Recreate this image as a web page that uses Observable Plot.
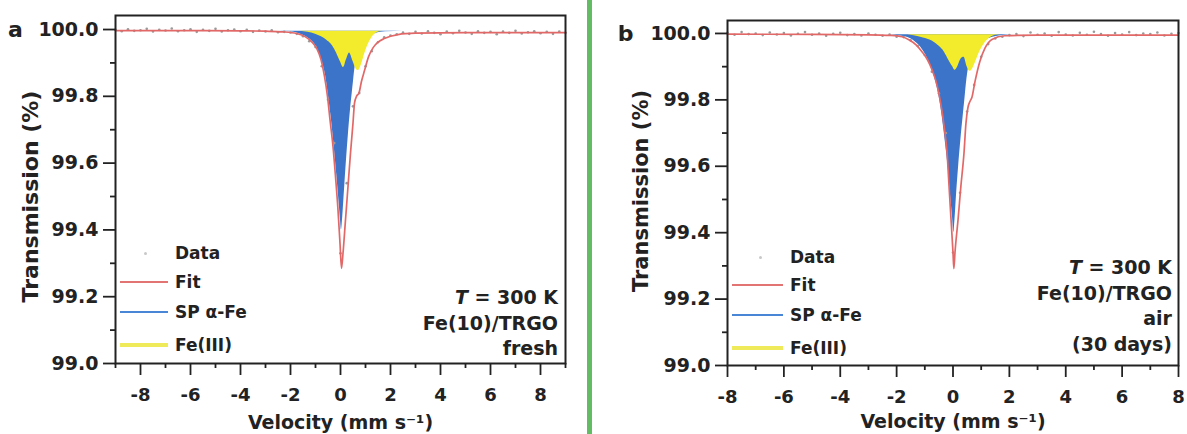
<!DOCTYPE html>
<html><head><meta charset="utf-8">
<script src="https://cdn.jsdelivr.net/npm/d3@7"></script>
<script src="https://cdn.jsdelivr.net/npm/@observablehq/plot@0.6"></script>
<style>
body{margin:0;background:#fff;}
#wrap{position:relative;width:1187px;height:434px;overflow:hidden;font-family:"DejaVu Sans",sans-serif;font-weight:bold;color:#222;background:#fff;}
.pan{position:absolute;top:0;}
.ann{position:absolute;text-align:right;font-size:19px;line-height:25.5px;white-space:nowrap;}
.legt{position:absolute;font-size:17px;line-height:20px;white-space:nowrap;}
.legl{position:absolute;}
#green{position:absolute;left:587px;top:0;width:5px;height:434px;background:#63bb63;}
</style></head>
<body><div id="wrap"><div id="green"></div></div>
<script>
// ---------- data ----------
const seriesNames = ["Data", "Fit", "SP α-Fe", "Fe(III)"];
const xLabel = "Velocity (mm s⁻¹)";
const yLabel = "Transmission (%)";
const yMajor = [99.0, 99.2, 99.4, 99.6, 99.8, 100.0];
const yMinor = [99.1, 99.3, 99.5, 99.7, 99.9];
const xMajor = [-8, -6, -4, -2, 0, 2, 4, 6, 8];
const xMinorA = [-9, -7, -5, -3, -1, 1, 3, 5, 7, 9];
const xMinorB = [-7, -5, -3, -1, 1, 3, 5, 7];
const baseA = 99.995, baseB = 99.996;
const annA = ["T", " = 300 K", "Fe(10)/TRGO", "fresh"];
const annB = ["T", " = 300 K", "Fe(10)/TRGO", "air", "(30 days)"];

// panel a
const dataA = [[-9,99.999],[-8.75,99.995],[-8.5,100.001],[-8.25,99.996],[-8,99.998],[-7.75,100.002],[-7.5,99.994],[-7.25,99.999],[-7,99.997],[-6.75,100.003],[-6.5,99.995],[-6.25,99.998],[-6,100.001],[-5.75,99.993],[-5.5,99.999],[-5.25,99.996],[-5,100.002],[-4.75,99.994],[-4.5,99.998],[-4.25,100.0],[-4,99.995],[-3.75,99.999],[-3.5,99.993],[-3.25,99.997],[-3,99.994],[-2.75,99.998],[-2.5,99.992],[-2.25,99.993],[-2,99.991],[-1.75,99.987],[-1.5,99.98],[-1.25,99.965],[-1,99.948],[-0.75,99.89],[-0.5,99.79],[-0.25,99.66],[0,99.33],[0.25,99.54],[0.5,99.77],[0.75,99.81],[1,99.89],[1.25,99.935],[1.5,99.962],[1.75,99.977],[2,99.982],[2.25,99.986],[2.5,99.991],[2.75,99.987],[3,99.993],[3.25,99.988],[3.5,99.995],[3.75,99.99],[4,99.986],[4.25,99.994],[4.5,99.989],[4.75,99.996],[5,99.991],[5.25,99.987],[5.5,99.995],[5.75,99.99],[6,99.993],[6.25,99.986],[6.5,99.994],[6.75,99.99],[7,99.996],[7.25,99.988],[7.5,99.992],[7.75,99.995],[8,99.989],[8.25,99.993],[8.5,99.987],[8.75,99.994],[9,99.99]];
const fitA = [[-9,99.997],[-6,99.997],[-4,99.996],[-3,99.995],[-2.3,99.993],[-1.75,99.988],[-1.4,99.978],[-1.15,99.963],[-0.95,99.943],[-0.78,99.91],[-0.64,99.86],[-0.52,99.8],[-0.42,99.73],[-0.3,99.65],[-0.2,99.56],[-0.1,99.46],[-0.02,99.36],[0.04,99.285],[0.1,99.33],[0.2,99.43],[0.3,99.53],[0.4,99.63],[0.5,99.72],[0.56,99.78],[0.64,99.8],[0.74,99.81],[0.84,99.845],[0.96,99.877],[1.12,99.918],[1.3,99.945],[1.5,99.962],[1.75,99.973],[2.3,99.985],[3,99.989],[5,99.991],[9,99.991]];
const spA = [[-2.5,99.995],[-2.0,99.993],[-1.6,99.986],[-1.3,99.975],[-1.05,99.958],[-0.85,99.93],[-0.7,99.895],[-0.58,99.855],[-0.47,99.795],[-0.37,99.735],[-0.26,99.655],[-0.15,99.565],[-0.06,99.485],[0.0,99.43],[0.04,99.40],[0.09,99.44],[0.16,99.52],[0.24,99.61],[0.32,99.69],[0.4,99.76],[0.47,99.81],[0.52,99.845],[0.57,99.88],[0.64,99.915],[0.75,99.945],[0.9,99.965],[1.1,99.978],[1.4,99.988],[1.8,99.993],[2.5,99.995]];
const fe3A = [[-1.6,99.995],[-1.3,99.992],[-1.0,99.986],[-0.76,99.978],[-0.55,99.968],[-0.36,99.955],[-0.16,99.93],[0.0,99.903],[0.12,99.886],[0.24,99.91],[0.36,99.93],[0.5,99.905],[0.62,99.882],[0.72,99.877],[0.84,99.895],[0.98,99.93],[1.15,99.962],[1.32,99.982],[1.5,99.992],[1.7,99.995]];

// panel b
const dataB = [[-8,100.002],[-7.75,99.996],[-7.5,100.004],[-7.25,99.998],[-7,100.0],[-6.75,99.995],[-6.5,100.003],[-6.25,99.997],[-6,100.001],[-5.75,99.994],[-5.5,99.999],[-5.25,100.004],[-5,99.996],[-4.75,100.0],[-4.5,99.993],[-4.25,99.999],[-4,100.002],[-3.75,99.995],[-3.5,99.998],[-3.25,99.994],[-3,100.0],[-2.75,99.996],[-2.5,99.993],[-2.25,99.997],[-2,99.99],[-1.75,99.989],[-1.5,99.979],[-1.25,99.962],[-1,99.935],[-0.75,99.885],[-0.5,99.82],[-0.25,99.7],[0,99.34],[0.25,99.52],[0.5,99.765],[0.75,99.845],[1,99.93],[1.25,99.968],[1.5,99.985],[1.75,99.99],[2,99.995],[2.25,99.998],[2.5,99.992],[2.75,100.003],[3,99.996],[3.25,100.0],[3.5,99.993],[3.75,100.004],[4,99.997],[4.25,99.994],[4.5,100.002],[4.75,99.996],[5,100.005],[5.25,99.998],[5.5,99.993],[5.75,100.001],[6,99.997],[6.25,100.004],[6.5,99.995],[6.75,100.0],[7,99.998],[7.25,100.003],[7.5,99.994],[7.75,99.999],[8,100.001]];
const fitB = [[-8,99.998],[-5,99.997],[-3,99.996],[-2.2,99.994],[-1.8,99.99],[-1.55,99.98],[-1.3,99.965],[-1.1,99.945],[-0.9,99.92],[-0.74,99.89],[-0.6,99.855],[-0.48,99.81],[-0.38,99.76],[-0.3,99.71],[-0.21,99.64],[-0.14,99.54],[-0.07,99.44],[0.0,99.34],[0.03,99.292],[0.07,99.34],[0.18,99.44],[0.28,99.54],[0.39,99.64],[0.46,99.73],[0.53,99.777],[0.6,99.795],[0.67,99.807],[0.78,99.855],[0.95,99.915],[1.13,99.955],[1.38,99.982],[1.84,99.993],[3,99.995],[8,99.995]];
const spB = [[-2.4,99.996],[-1.9,99.993],[-1.5,99.984],[-1.25,99.968],[-1.05,99.947],[-0.88,99.92],[-0.72,99.885],[-0.58,99.845],[-0.46,99.795],[-0.36,99.735],[-0.26,99.665],[-0.17,99.595],[-0.09,99.515],[-0.02,99.45],[0.03,99.40],[0.07,99.44],[0.13,99.52],[0.2,99.6],[0.28,99.68],[0.36,99.75],[0.42,99.8],[0.47,99.845],[0.52,99.88],[0.6,99.915],[0.72,99.945],[0.9,99.966],[1.15,99.98],[1.5,99.99],[2.0,99.995],[2.5,99.996]];
const fe3B = [[-1.6,99.996],[-1.38,99.993],[-1.05,99.986],[-0.74,99.977],[-0.5,99.962],[-0.3,99.943],[-0.14,99.918],[0.0,99.898],[0.07,99.889],[0.17,99.9],[0.28,99.922],[0.39,99.928],[0.5,99.9],[0.6,99.886],[0.7,99.894],[0.82,99.918],[0.95,99.945],[1.1,99.967],[1.3,99.986],[1.48,99.994],[1.7,99.996]];

// ---------- styling ----------
const RED = "#e26868", BLUE = "#3b74c9", YELLOW = "#f3ec2c", GRAY = "#9a9a9a", INK = "#222";
const legendColors = {"Fit": "#e27474", "SP α-Fe": "#4a86d6", "Fe(III)": "#eeea5a"};

function panel(o) {
  const X = d => d[0], Y = d => d[1];
  return Plot.plot({
    width: o.width, height: 434,
    marginLeft: o.ml, marginRight: o.mr, marginTop: o.mt, marginBottom: o.mb,
    x: {domain: o.xDomain}, y: {domain: o.yDomain},
    style: {fontFamily: "DejaVu Sans", fontWeight: "bold", color: INK, background: "transparent", overflow: "visible"},
    marks: [
      Plot.areaY(o.sp, {x: X, y1: o.base, y2: Y, fill: BLUE, curve: "monotone-x"}),
      Plot.areaY(o.fe3, {x: X, y1: o.base, y2: Y, fill: YELLOW, curve: "monotone-x"}),
      Plot.dot(o.data, {x: X, y: Y, r: 1.3, fill: GRAY, stroke: null}),
      Plot.line(o.fit, {x: X, y: Y, stroke: RED, strokeWidth: 1.7, curve: "monotone-x"}),
      Plot.frame({stroke: INK, strokeWidth: 2}),
      Plot.axisX({ticks: xMajor, tickSize: 12, tickPadding: 13, fontSize: 18, strokeWidth: 1.8, label: null, tickFormat: d => String(d)}),
      Plot.axisX({ticks: o.xMinor, tickSize: 5, strokeWidth: 1.8, label: null, tickFormat: () => ""}),
      Plot.axisY({ticks: yMajor, tickSize: 12, tickPadding: 5, fontSize: 19, strokeWidth: 1.8, label: null, tickFormat: d3.format(".1f")}),
      Plot.axisY({ticks: yMinor, tickSize: 5, strokeWidth: 1.8, label: null, tickFormat: () => ""}),
      Plot.text([xLabel], {text: d => d, frameAnchor: "bottom", textAnchor: "middle", lineAnchor: "middle", dy: o.xlDy, fontSize: 19}),
      Plot.text([yLabel], {text: d => d, frameAnchor: "left", textAnchor: "middle", lineAnchor: "middle", dx: o.ylDx, dy: o.ylDy, rotate: -90, fontSize: o.ylSize}),
      Plot.text([o.letter], {text: d => d, frameAnchor: "top-left", textAnchor: "middle", lineAnchor: "middle", dx: o.letDx, dy: o.letDy, fontSize: 22})
    ]
  });
}

const wrap = document.getElementById("wrap");
function place(el, left) { el.classList.add("pan"); el.style.left = left + "px"; wrap.appendChild(el); }

place(panel({width: 585, ml: 115, mr: 20, mt: 15, mb: 71, xDomain: [-9, 9], yDomain: [99, 100.042],
  xMinor: xMinorA, data: dataA, fit: fitA, sp: spA, fe3: fe3A, base: baseA,
  letter: "a", letDx: -100, letDy: 14, ylDx: -85, ylDy: 7, ylSize: 22, xlDy: 59}), 0);
place(panel({width: 592, ml: 132, mr: 9, mt: 20, mb: 69, xDomain: [-8, 8], yDomain: [99, 100.039],
  xMinor: xMinorB, data: dataB, fit: fitB, sp: spB, fe3: fe3B, base: baseB,
  letter: "b", letDx: -102, letDy: 13, ylDx: -86, ylDy: -2, ylSize: 21, xlDy: 56}), 595);

// legends (HTML overlay)
function legend(cfg) {
  seriesNames.forEach((name, i) => {
    const yc = cfg.ys[i];
    if (name === "Data") {
      const dot = document.createElement("div");
      dot.className = "legl";
      Object.assign(dot.style, {left: (cfg.dotX - 1.5) + "px", top: (yc - 1.5) + "px", width: "3px", height: "3px", borderRadius: "50%", background: "#c8c8c8"});
      wrap.appendChild(dot);
    } else {
      const ln = document.createElement("div");
      ln.className = "legl";
      const th = name === "Fe(III)" ? 4 : 2;
      Object.assign(ln.style, {left: cfg.lx0 + "px", top: (yc - th / 2) + "px", width: (cfg.lx1 - cfg.lx0) + "px", height: th + "px", background: legendColors[name]});
      wrap.appendChild(ln);
    }
    const t = document.createElement("div");
    t.className = "legt";
    t.textContent = name;
    t.style.left = cfg.tx + "px";
    t.style.top = (cfg.ys[i] - 10) + "px";
    wrap.appendChild(t);
  });
}
legend({ys: [253, 282, 312, 345], dotX: 145, lx0: 120, lx1: 168, tx: 175});
legend({ys: [257, 285, 315, 348], dotX: 760, lx0: 732, lx1: 783, tx: 790});

function annot(lines, right, top) {
  const d = document.createElement("div");
  d.className = "ann";
  d.style.right = right + "px";
  d.style.top = top + "px";
  const first = document.createElement("div");
  const it = document.createElement("i");
  it.textContent = lines[0];
  first.appendChild(it);
  first.appendChild(document.createTextNode(lines[1]));
  d.appendChild(first);
  lines.slice(2).forEach(s => { const l = document.createElement("div"); l.textContent = s; d.appendChild(l); });
  wrap.appendChild(d);
}
annot(annA, 1187 - 558, 285);
annot(annB, 1187 - 1172, 255);
</script>
</body></html>
